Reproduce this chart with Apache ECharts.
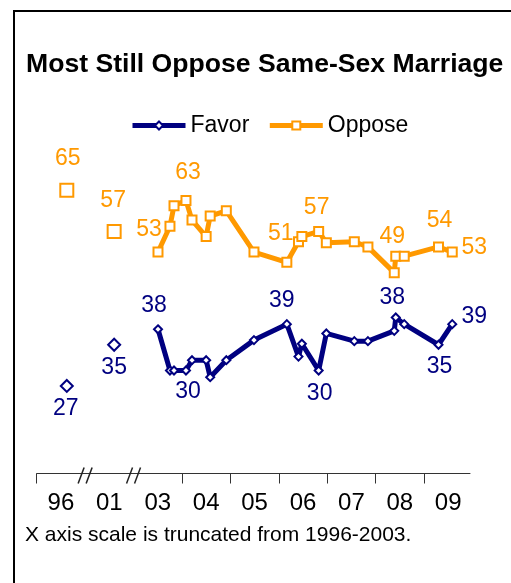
<!DOCTYPE html>
<html><head><meta charset="utf-8">
<script src="https://cdn.jsdelivr.net/npm/echarts@6/dist/echarts.min.js"></script>
<style>html,body{margin:0;padding:0;background:#fff}#c{width:511px;height:583px}</style>
</head><body><div id="c"></div>
<script>
// ---- data ----
const surveyDates = ['1996-08-15','2001-08-07','2003-07-03','2003-10-02','2003-11-02','2004-02-01','2004-03-16',
  '2004-07-01','2004-08-01','2004-12-01','2005-06-27','2006-03-01','2006-05-28','2006-06-23','2006-10-28',
  '2006-12-25','2007-07-23','2007-11-04','2008-05-20','2008-06-01','2008-08-04','2009-04-19','2009-08-01'];
const favor  = [27, 35, 38, 30, 30, 30, 32, 32, 28.7, 32, 35.9, 39, 32.7, 35.2, 30, 37.2, 35.7, 35.7, 37.7, 40.3, 39, 35, 39];
const oppose = [65, 57, 53, 58, 62, 63, 59.2, 56, 60, 61, 53, 51, 55, 56, 57, 54.8, 55, 54, 49, 52.2, 52.2, 54, 53];
const favorLabels  = ['27','35','38','','','30','','','','','','39','','','30','','','','','38','','35','39'];
const opposeLabels = ['65','57','53','','','63','','','','','','51','','','57','','','','49','','','54','53'];
const tickYears  = [1996, 2001, 2003, 2004, 2005, 2006, 2007, 2008, 2009];
const tickLabels = ['96','01','03','04','05','06','07','08','09'];

// ---- truncated axis: years before 2003 get one-year slots ----
const slotStart = {1996: 2001, 2001: 2002};
const axisMin = 2001, axisMax = 2009.95;
function base(y){ return y >= 2003 ? y : slotStart[y]; }
function axisPos(d){ const [y,m,day] = d.split('-').map(Number); return base(y) + (m-1)/12 + (day-1)/365; }
const breakPositions = [2002, 2003];
const tickPositions = [axisMin].concat(tickYears.filter(y => y > 2003).map(base));
const labelPositions = tickYears.map(y => base(y) + 0.5);

// ---- label placement (style) ----
const favorOffsets  = {0:[-1,23],1:[0,23],2:[-4,-24],5:[2,21],11:[-5,-23],14:[1,23],19:[-3.5,-19.5],21:[1,22],22:[22,-7]};
const opposeOffsets = {0:[1,-32],1:[-1,-31],2:[-9,-22],5:[2,-28],11:[-6,-29],14:[-2,-24],18:[-2,-36],21:[1,-26],22:[22,-4]};

const FONT = "'Liberation Sans', Arial, sans-serif";
function build(values, labels, offsets, smallSize, bigSize){
  const out = [];
  surveyDates.forEach((d, i) => {
    const y = +d.slice(0,4);
    const x = axisPos(d);
    if (i > 0 && +surveyDates[i-1].slice(0,4) < 2003) out.push({value: [x - 0.05, '-']});
    const item = {value: [x, values[i]], symbolSize: y < 2003 ? bigSize : smallSize};
    if (labels[i]) item.label = {show: true, formatter: labels[i], position: 'inside', offset: offsets[i]};
    out.push(item);
  });
  return out;
}

const NAVY = '#000080', ORANGE = '#FF9900';
const chart = echarts.init(document.getElementById('c'), null, {renderer: 'canvas'});
chart.setOption({
  animation: false,
  backgroundColor: '#fff',
  title: {text: 'Most Still Oppose Same-Sex Marriage', left: 21, top: 46,
    textStyle: {fontFamily: FONT, fontSize: 26.6, fontWeight: 'bold', color: '#000'}},
  legend: {data: ['Favor','Oppose'], left: 125, top: 109, itemWidth: 53, itemHeight: 10, itemGap: 18,
    lineStyle: {width: 5},
    textStyle: {fontFamily: FONT, fontSize: 23, color: '#000'}},
  grid: {left: 36.7, right: 41, top: 164.5, bottom: 109.5},
  xAxis: {type: 'value', min: axisMin, max: axisMax,
    axisLine: {show: true, lineStyle: {color: '#333', width: 1}},
    axisTick: {show: true, length: 10, customValues: tickPositions, lineStyle: {color: '#333'}},
    axisLabel: {show: true, customValues: labelPositions, margin: 18, fontFamily: FONT, fontSize: 24, color: '#000',
      formatter: (v) => { const i = labelPositions.findIndex(p => Math.abs(p - v) < 1e-6); return i >= 0 ? tickLabels[i] : ''; }},
    splitLine: {show: false}},
  yAxis: {type: 'value', min: 10, max: 70, show: false, splitLine: {show: false}},
  graphic: [
    {type: 'rect', shape: {x: 14, y: 11, width: 700, height: 800}, style: {fill: 'none', stroke: '#000', lineWidth: 2}, silent: true},
    {type: 'text', left: 25, top: 525, style: {text: 'X axis scale is truncated from 1996-2003.', font: "21px 'Liberation Sans', Arial, sans-serif", fill: '#000'}}
  ],
  series: [
    {name: 'Favor', type: 'line', data: build(favor, favorLabels, favorOffsets, 8, 12), connectNulls: false,
      symbol: 'diamond', color: NAVY, lineStyle: {color: NAVY, width: 5},
      itemStyle: {color: '#fff', borderColor: NAVY, borderWidth: 2},
      label: {color: NAVY, fontFamily: FONT, fontSize: 23}, emphasis: {disabled: true}, z: 3},
    {name: 'Oppose', type: 'line', data: build(oppose, opposeLabels, opposeOffsets, 9, 13), connectNulls: false,
      symbol: 'rect', color: ORANGE, lineStyle: {color: ORANGE, width: 5},
      itemStyle: {color: '#fff', borderColor: ORANGE, borderWidth: 2},
      label: {color: ORANGE, fontFamily: FONT, fontSize: 23}, emphasis: {disabled: true}, z: 3},
    {name: 'break', type: 'custom', silent: true, clip: false, z: 5,
      data: breakPositions.map(x => [x, 10]),
      renderItem: (p, api) => {
        const pt = api.coord([api.value(0), api.value(1)]);
        const c = pt[0], y = pt[1] + 2;
        const st = {stroke: '#222', lineWidth: 1.5};
        return {type: 'group', children: [
          {type: 'line', shape: {x1: c-7, y1: y+8, x2: c-1, y2: y-8}, style: st},
          {type: 'line', shape: {x1: c+1, y1: y+8, x2: c+7, y2: y-8}, style: st}
        ]};
      }}
  ]
});
</script></body></html>
